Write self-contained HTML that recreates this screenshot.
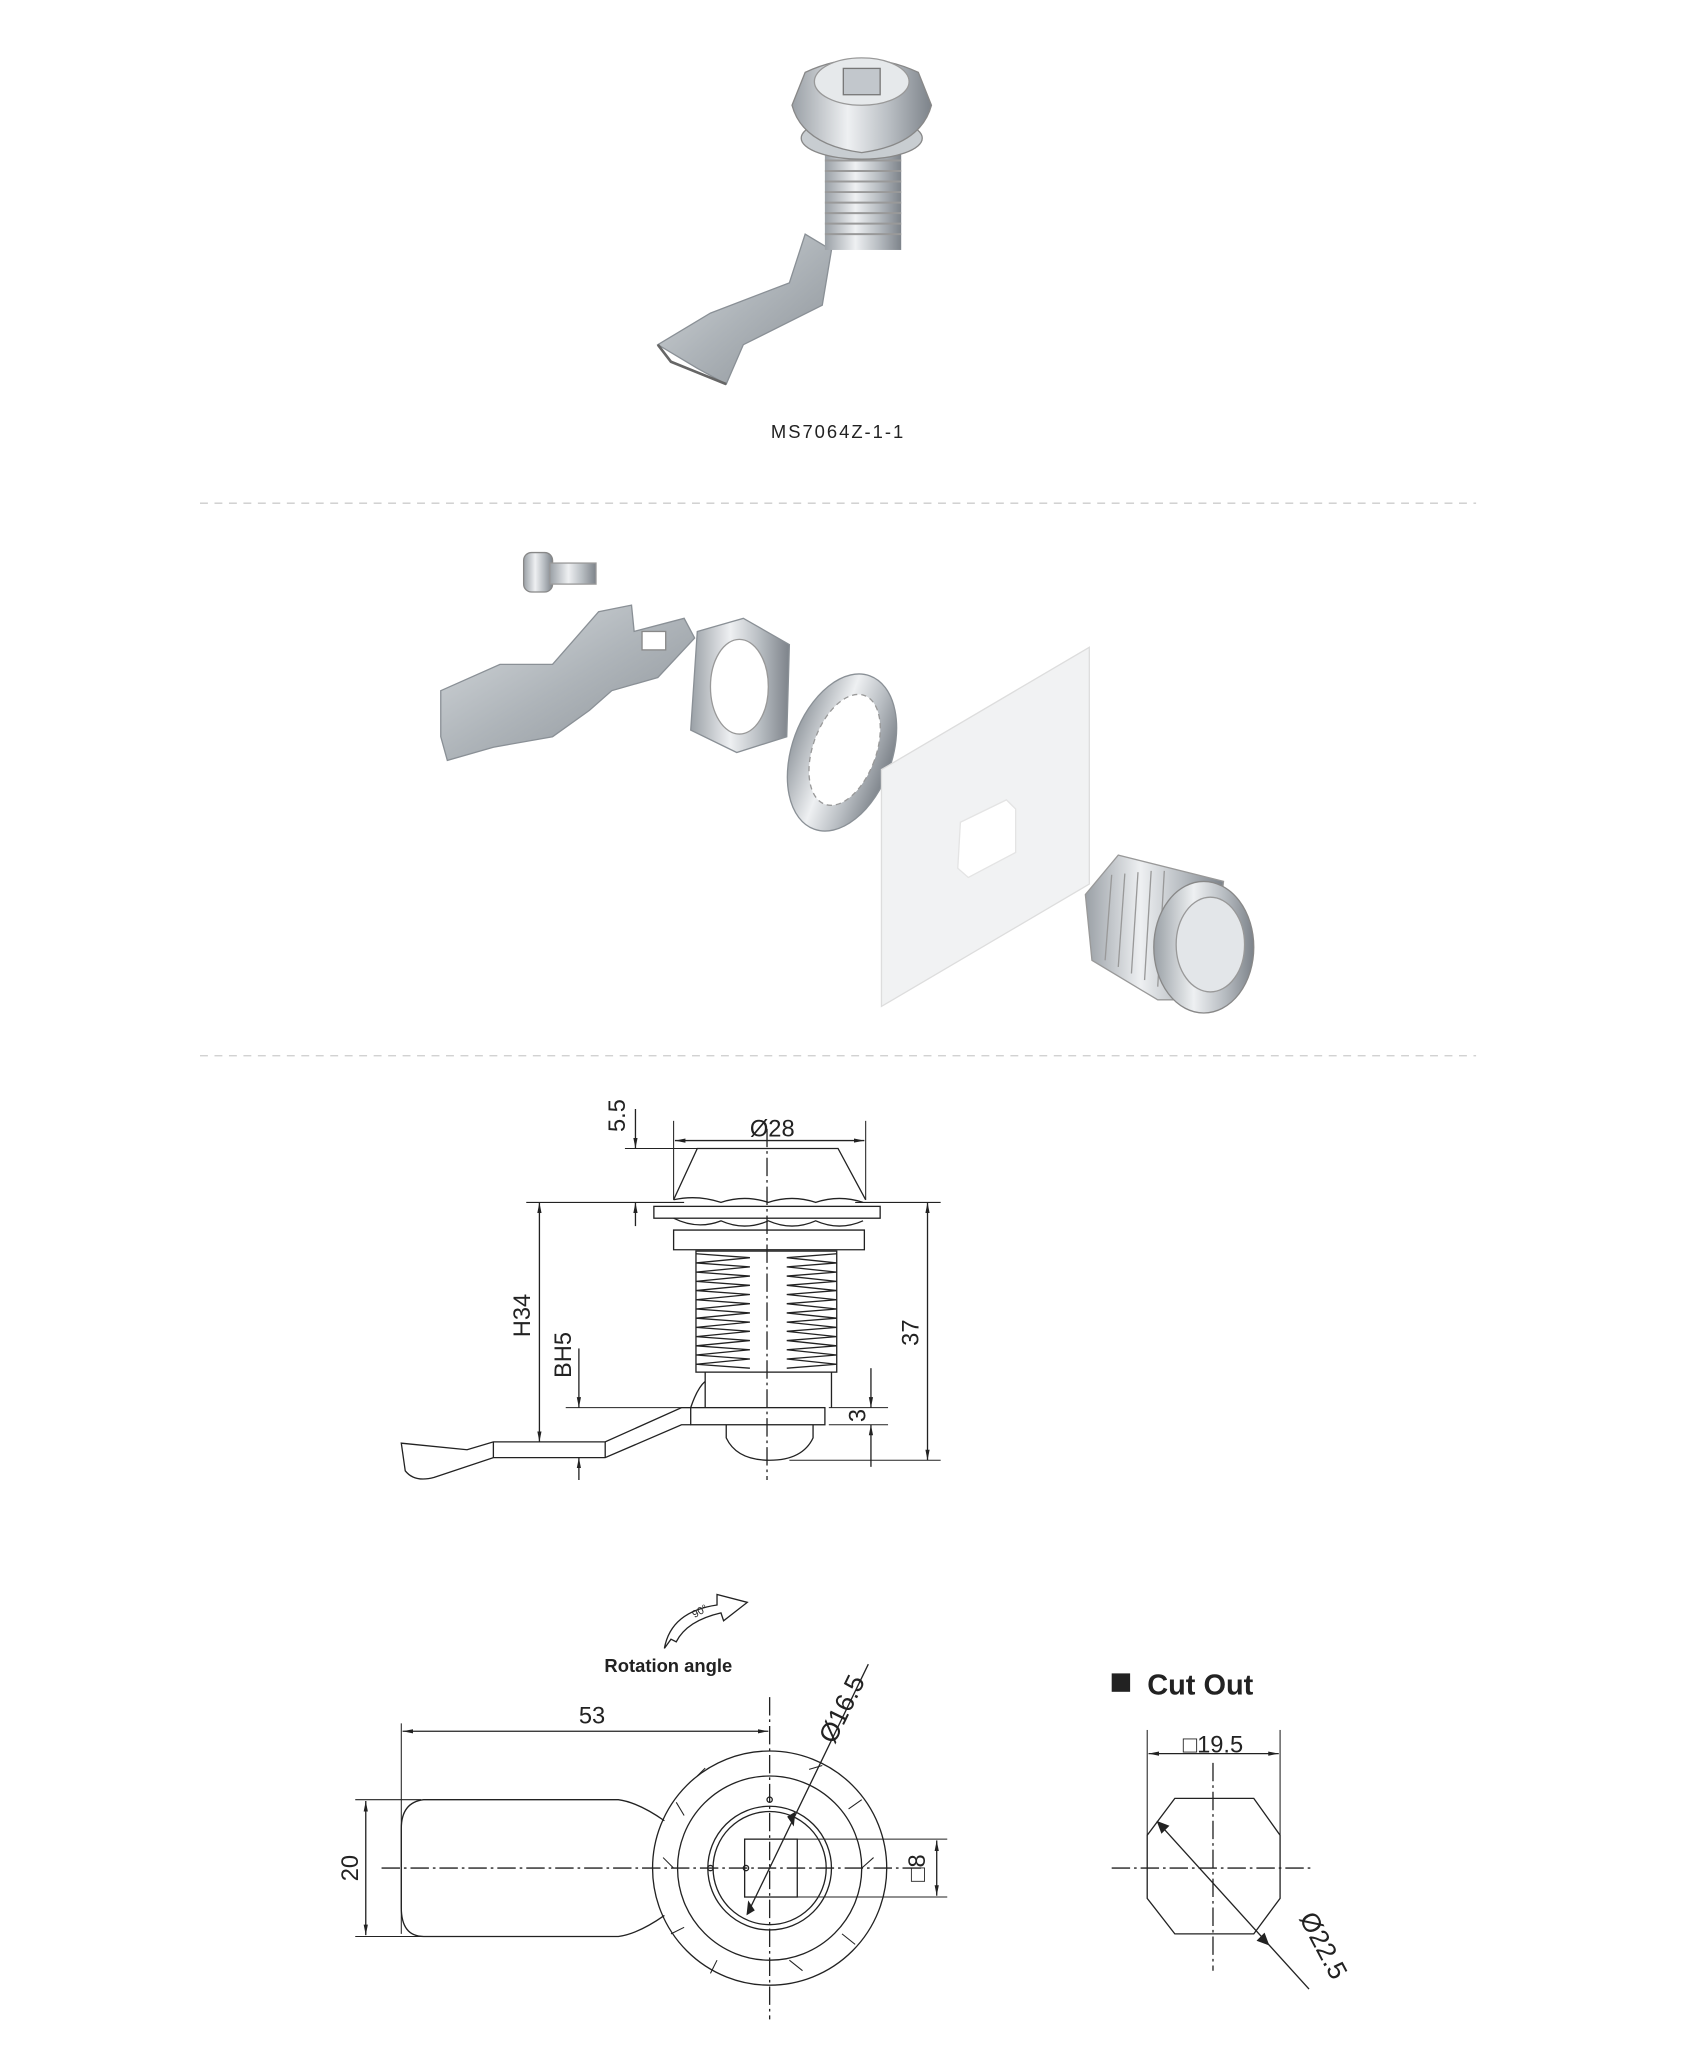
<!DOCTYPE html>
<html><head><meta charset="utf-8"><style>
html,body{margin:0;padding:0;background:#fff}
svg{display:block}
text{font-family:"Liberation Sans",sans-serif;fill:#222}
</style></head><body>
<svg width="1684" height="2072" viewBox="0 0 1280 1575" xmlns="http://www.w3.org/2000/svg">
<defs>
<linearGradient id="m" x1="0" x2="1"><stop offset="0" stop-color="#9aa0a6"/><stop offset=".4" stop-color="#eef0f2"/><stop offset=".7" stop-color="#b8bdc2"/><stop offset="1" stop-color="#7d838a"/></linearGradient>
<linearGradient id="m2" x1="0" y1="0" x2="1" y2="1"><stop offset="0" stop-color="#d9dde0"/><stop offset=".5" stop-color="#aeb4b9"/><stop offset="1" stop-color="#8a9096"/></linearGradient>
<marker id="a" viewBox="0 0 10 10" refX="10" refY="5" markerWidth="8" markerHeight="8" orient="auto-start-reverse"><path d="M0,3 L10,5 L0,7z" fill="#222"/></marker>
</defs>

<!-- top product photo -->
<g>
<path d="M500,262 L540,238 L600,215 L612,178 L632,190 L625,232 L565,262 L552,292 L530,280 Z" fill="url(#m2)" stroke="#8a9096"/>
<path d="M500,262 L510,275 L552,292" fill="none" stroke="#666" stroke-width="2"/>
<rect x="627" y="112" width="58" height="78" fill="url(#m)"/>
<g stroke="#999" stroke-width="1.5">
<line x1="627" y1="122" x2="685" y2="122"/><line x1="627" y1="130" x2="685" y2="130"/><line x1="627" y1="138" x2="685" y2="138"/><line x1="627" y1="146" x2="685" y2="146"/><line x1="627" y1="154" x2="685" y2="154"/><line x1="627" y1="162" x2="685" y2="162"/><line x1="627" y1="170" x2="685" y2="170"/><line x1="627" y1="178" x2="685" y2="178"/>
</g>
<ellipse cx="655" cy="105" rx="46" ry="16" fill="#c8cdd1" stroke="#888"/>
<path d="M602,80 L612,55 Q655,35 698,55 L708,80 Q700,110 655,116 Q610,110 602,80Z" fill="url(#m)" stroke="#888"/>
<ellipse cx="655" cy="62" rx="36" ry="18" fill="#e6e9eb" stroke="#999"/>
<rect x="641" y="52" width="28" height="20" fill="#c2c7cc" stroke="#777"/>
</g>
<text x="637" y="333" font-size="14" text-anchor="middle" letter-spacing="1.5" fill="#333">MS7064Z-1-1</text>
<line x1="152" y1="382.5" x2="1122" y2="382.5" stroke="#ccc" stroke-dasharray="6,5"/>

<!-- exploded view -->
<g>
<rect x="398" y="420" width="22" height="30" rx="6" fill="url(#m)" stroke="#888"/>
<rect x="418" y="428" width="35" height="16" fill="url(#m)" stroke="#999"/>
<path d="M335,525 L380,505 L420,505 L455,465 L480,460 L482,480 L520,470 L528,485 L500,515 L465,525 L448,540 L420,560 L375,568 L340,578 L335,560 Z" fill="url(#m2)" stroke="#8a9096"/>
<rect x="488" y="480" width="18" height="14" fill="#fff" stroke="#888"/>
<path d="M530,480 L565,470 L600,490 L598,560 L560,572 L525,555 Z" fill="url(#m)" stroke="#8a9096"/>
<ellipse cx="562" cy="522" rx="22" ry="36" fill="#fff" stroke="#999"/>
<ellipse cx="640" cy="572" rx="38" ry="62" fill="url(#m)" stroke="#8a9096" transform="rotate(20 640 572)"/>
<ellipse cx="642" cy="570" rx="24" ry="44" fill="#fff" stroke="#999" stroke-dasharray="4,3" transform="rotate(20 642 570)"/>
<path d="M670,585 L828,492 L828,672 L670,765 Z" fill="#f1f2f3" stroke="#ddd"/>
<path d="M730,625 L765,608 L772,615 L772,648 L736,667 L728,660 Z" fill="#fff" stroke="#e4e4e4"/>
<path d="M825,680 L850,650 L930,670 L920,760 L880,760 L830,730 Z" fill="url(#m)" stroke="#999"/>
<g stroke="#999"><line x1="845" y1="665" x2="840" y2="730"/><line x1="855" y1="664" x2="850" y2="735"/><line x1="865" y1="663" x2="860" y2="740"/><line x1="875" y1="662" x2="870" y2="745"/><line x1="885" y1="662" x2="880" y2="750"/></g>
<ellipse cx="915" cy="720" rx="38" ry="50" fill="url(#m)" stroke="#888"/>
<ellipse cx="920" cy="718" rx="26" ry="36" fill="#e3e6e9" stroke="#999"/>
</g>
<line x1="152" y1="802.5" x2="1122" y2="802.5" stroke="#ccc" stroke-dasharray="6,5"/>

<!-- side view -->
<g stroke="#222" stroke-width="1" fill="none">
<line x1="583" y1="858" x2="583" y2="1125" stroke-dasharray="14,3,2,3"/>
<path d="M512,912 L530,873 L637,873 L658,912"/>
<line x1="512" y1="852" x2="512" y2="912" stroke-width=".8"/><line x1="658" y1="852" x2="658" y2="912" stroke-width=".8"/>
<line x1="513" y1="867" x2="657" y2="867" marker-start="url(#a)" marker-end="url(#a)"/>
<line x1="475" y1="873" x2="530" y2="873" stroke-width=".8"/>
<line x1="400" y1="914" x2="520" y2="914" stroke-width=".8"/><line x1="650" y1="914" x2="715" y2="914" stroke-width=".8"/>
<line x1="483" y1="843" x2="483" y2="873" marker-end="url(#a)"/><line x1="483" y1="932" x2="483" y2="914" marker-end="url(#a)"/>
<path d="M512,912 Q530,908 548,914 Q566,908 584,914 Q602,908 620,914 Q638,908 656,914"/>
<rect x="497" y="917" width="172" height="9"/>
<path d="M512,926 Q530,935 548,928 Q566,936 584,928 Q602,936 620,928 Q638,936 656,928"/>
<path d="M512,935 L657,935 L657,950 L512,950 Z"/>
<rect x="529" y="951" width="107" height="92"/>
<path d="M529,953 L570,956 L529,960 L570,963 L529,967 L570,970 L529,974 L570,977 L529,981 L570,984 L529,988 L570,991 L529,995 L570,998 L529,1002 L570,1005 L529,1009 L570,1012 L529,1016 L570,1019 L529,1023 L570,1026 L529,1030 L570,1033 L529,1037 L570,1040"/>
<path d="M636,953 L598,956 L636,960 L598,963 L636,967 L598,970 L636,974 L598,977 L636,981 L598,984 L636,988 L598,991 L636,995 L598,998 L636,1002 L598,1005 L636,1009 L598,1012 L636,1016 L598,1019 L636,1023 L598,1026 L636,1030 L598,1033 L636,1037 L598,1040"/>
<path d="M536,1043 L536,1070 M632,1043 L632,1070"/>
<rect x="525" y="1070" width="102" height="13"/>
<path d="M552,1083 L552,1093 Q560,1110 585,1110 Q610,1110 618,1093 L618,1083"/>
<path d="M525,1070 Q530,1055 536,1050"/>
<path d="M525,1070 L518,1070 L460,1096 L375,1096 L355,1102 L305,1097 L308,1118 Q315,1127 330,1123 L375,1108 L460,1108 L518,1083 L525,1083"/>
<line x1="375" y1="1096" x2="375" y2="1108"/><line x1="460" y1="1096" x2="460" y2="1108"/>
<line x1="410" y1="914" x2="410" y2="1096" marker-start="url(#a)" marker-end="url(#a)"/>
<line x1="430" y1="1070" x2="525" y2="1070" stroke-width=".8"/>
<line x1="440" y1="1025" x2="440" y2="1070" marker-end="url(#a)"/><line x1="440" y1="1125" x2="440" y2="1108" marker-end="url(#a)"/>
<line x1="600" y1="1110" x2="715" y2="1110" stroke-width=".8"/>
<line x1="705" y1="914" x2="705" y2="1110" marker-start="url(#a)" marker-end="url(#a)"/>
<line x1="630" y1="1083" x2="675" y2="1083" stroke-width=".8"/><line x1="630" y1="1070" x2="675" y2="1070" stroke-width=".8"/>
<line x1="662" y1="1040" x2="662" y2="1070" marker-end="url(#a)"/><line x1="662" y1="1115" x2="662" y2="1083" marker-end="url(#a)"/>
</g>
<text x="587" y="864" font-size="18" text-anchor="middle">Ø28</text>
<text font-size="18" transform="translate(475,848) rotate(-90)" text-anchor="middle">5.5</text>
<text font-size="18" transform="translate(403,1000) rotate(-90)" text-anchor="middle">H34</text>
<text font-size="18" transform="translate(434,1030) rotate(-90)" text-anchor="middle">BH5</text>
<text font-size="18" transform="translate(698,1013) rotate(-90)" text-anchor="middle">37</text>
<text font-size="18" transform="translate(658,1076) rotate(-90)" text-anchor="middle">3</text>

<!-- rotation -->
<path d="M505,1253 Q510,1225 545,1220 L545,1212 L568,1218 L550,1232 L548,1226 Q522,1232 514,1248 L510,1246 Z" fill="#fff" stroke="#222"/>
<text font-size="8" transform="translate(528,1230) rotate(-30)">90°</text>
<text x="508" y="1271" font-size="14" font-weight="bold" text-anchor="middle" fill="#333">Rotation angle</text>

<!-- front view -->
<g stroke="#222" stroke-width="1" fill="none">
<line x1="290" y1="1420" x2="700" y2="1420" stroke-dasharray="14,3,2,3"/>
<line x1="585" y1="1290" x2="585" y2="1535" stroke-dasharray="14,3,2,3"/>
<line x1="305" y1="1310" x2="305" y2="1470" stroke-width=".8"/>
<line x1="306" y1="1316" x2="584" y2="1316" marker-start="url(#a)" marker-end="url(#a)"/>
<line x1="270" y1="1368" x2="320" y2="1368" stroke-width=".8"/><line x1="270" y1="1472" x2="320" y2="1472" stroke-width=".8"/>
<line x1="278" y1="1369" x2="278" y2="1471" marker-start="url(#a)" marker-end="url(#a)"/>
<path d="M505,1384 Q485,1370 470,1368 L322,1368 Q305,1370 305,1390 L305,1450 Q305,1472 322,1472 L470,1472 Q485,1470 505,1456"/>
<circle cx="585" cy="1420" r="89"/>
<circle cx="585" cy="1420" r="70"/>
<circle cx="585" cy="1420" r="47"/>
<circle cx="585" cy="1420" r="43"/>
<rect x="566" y="1398" width="40" height="44"/>
<line x1="606" y1="1398" x2="720" y2="1398" stroke-width=".8"/><line x1="606" y1="1442" x2="720" y2="1442" stroke-width=".8"/>
<line x1="712" y1="1399" x2="712" y2="1441" marker-start="url(#a)" marker-end="url(#a)"/>
<circle cx="585" cy="1368" r="2"/><circle cx="540" cy="1420" r="2"/><circle cx="567" cy="1420" r="2"/>
<line x1="568" y1="1455" x2="660" y2="1265"/>
<path d="M568,1455 l1,-9 l4,6z M604,1378 l-1,9 l-4,-6z" fill="#222"/>
<g stroke-width=".8"><line x1="530" y1="1350" x2="536" y2="1344"/><line x1="520" y1="1380" x2="514" y2="1370"/><line x1="512" y1="1420" x2="504" y2="1412"/><line x1="520" y1="1465" x2="510" y2="1470"/><line x1="545" y1="1490" x2="540" y2="1500"/><line x1="600" y1="1490" x2="610" y2="1498"/><line x1="640" y1="1470" x2="650" y2="1478"/><line x1="655" y1="1420" x2="664" y2="1412"/><line x1="645" y1="1375" x2="655" y2="1368"/><line x1="615" y1="1345" x2="625" y2="1342"/></g>
</g>
<text x="450" y="1310" font-size="18" text-anchor="middle">53</text>
<text font-size="18" transform="translate(272,1420) rotate(-90)" text-anchor="middle">20</text>
<text font-size="18" transform="translate(703,1420) rotate(-90)" text-anchor="middle">□8</text>
<text font-size="20" transform="translate(646,1302) rotate(-64)" text-anchor="middle">Ø16.5</text>

<!-- cut out -->
<rect x="845" y="1272" width="14" height="14" fill="#222"/>
<text x="872" y="1288" font-size="22" font-weight="bold" fill="#333">Cut Out</text>
<g stroke="#222" stroke-width="1" fill="none">
<line x1="845" y1="1420" x2="998" y2="1420" stroke-dasharray="14,3,2,3"/>
<line x1="922" y1="1340" x2="922" y2="1498" stroke-dasharray="14,3,2,3"/>
<line x1="872" y1="1315" x2="872" y2="1395" stroke-width=".8"/><line x1="973" y1="1315" x2="973" y2="1395" stroke-width=".8"/>
<line x1="873" y1="1333" x2="972" y2="1333" marker-start="url(#a)" marker-end="url(#a)"/>
<path d="M893,1367 L953,1367 L973,1395 L973,1443 L953,1470 L893,1470 L872,1443 L872,1395 Z"/>
<line x1="880" y1="1385" x2="995" y2="1512"/>
<path d="M880,1385 l8,3 l-5,5z M964,1478 l-8,-3 l5,-5z" fill="#222"/>
</g>
<text x="922" y="1332" font-size="18" text-anchor="middle">□19.5</text>
<text font-size="20" transform="translate(1000,1482) rotate(62)" text-anchor="middle">Ø22.5</text>
</svg>
</body></html>
